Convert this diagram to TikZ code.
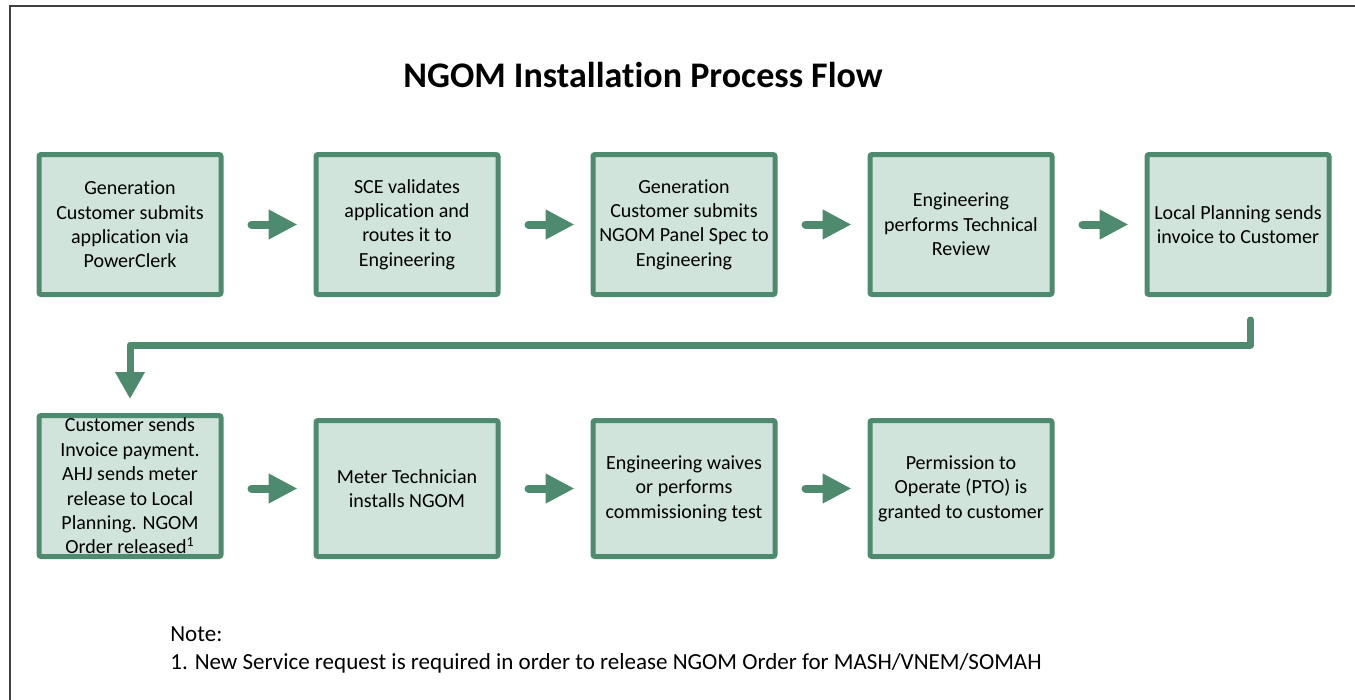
\documentclass[tikz,border=0pt]{standalone}
\usepackage{fontspec}
\setmainfont{Carlito}[Ligatures=NoCommon]
\usepackage{xcolor}
\usepackage{tikz}
\usetikzlibrary{positioning,arrows.meta}

\definecolor{boxline}{RGB}{78,138,110}
\definecolor{boxfill}{RGB}{208,228,219}
\definecolor{framegray}{RGB}{64,64,64}

\begin{document}
\begin{tikzpicture}[
    node distance=1.8cm,
    stepbox/.style={rectangle, draw=boxline, fill=boxfill, line width=0.1cm, rounded corners=0.04cm, minimum width=3.64cm, minimum height=2.8cm, align=center, font=\fontsize{11.4}{13.9}\selectfont},
    lowbox/.style={stepbox, minimum height=2.72cm},
    flow/.style={draw=boxline, line width=0.16cm, line cap=round, -{Triangle[length=0.58cm, width=0.56cm]}, shorten <=0.56cm, shorten >=0.32cm},
    bigflow/.style={draw=boxline, line width=0.14cm, line cap=round, line join=round, -{Triangle[length=0.54cm, width=0.56cm]}, shorten <=0.46cm, shorten >=0.28cm},
    note/.style={anchor=base west, font=\fontsize{13.1}{15}\selectfont, inner sep=0pt}
]
\useasboundingbox (0,0) rectangle (27.1,-14);
% page frame
\draw[framegray, line width=0.026cm] (0.2,-14) -- (0.2,-0.12) -- (27.1,-0.12);

% Title
\node[anchor=base, font=\fontsize{20.5}{24}\selectfont\bfseries] (title) at (12.86,-1.74) {NGOM Installation Process Flow};

% First row
\node[stepbox] (apply) at (2.6,-4.49) {Generation\\Customer submits\\application via\\PowerClerk};
\node[stepbox, right=of apply] (validate) {SCE validates\\application and\\routes it to\\Engineering};
\node[stepbox, right=of validate] (panelspec) {Generation\\Customer submits\\NGOM Panel Spec to\\Engineering};
\node[stepbox, right=of panelspec] (review) {Engineering\\performs Technical\\Review};
\node[stepbox, right=of review] (invoice) {Local Planning sends\\invoice to Customer};

% Second row
\node[lowbox, below=2.42cm of validate] (install) {Meter Technician\\installs NGOM};
\node[stepbox, inner sep=0pt, minimum height=2.82cm, left=1.8cm of install.south west, anchor=south east] (payment) {Customer sends\\Invoice payment.\\AHJ sends meter\\release to Local\\Planning. NGOM\\Order released\textsuperscript{1}};
\node[lowbox, right=of install] (commission) {Engineering waives\\or performs\\commissioning test};
\node[lowbox, right=of commission] (pto) {Permission to\\Operate (PTO) is\\granted to customer};

% Arrows
\draw[flow] (apply) -- (validate);
\draw[flow] (validate) -- (panelspec);
\draw[flow] (panelspec) -- (review);
\draw[flow] (review) -- (invoice);
\draw[bigflow] ([xshift=0.25cm]invoice.south) -- ++(0,-0.96) -| (payment.north);
\draw[flow] (payment.east |- install.east) -- (install);
\draw[flow] (install) -- (commission);
\draw[flow] (commission) -- (pto);

% Note
\node[note] (notehead) at (3.4,-12.82) {Note:};
\node[note] (notebody) at (3.4,-13.38) {1. New Service request is required in order to release NGOM Order for MASH/VNEM/SOMAH};

\end{tikzpicture}
\end{document}
